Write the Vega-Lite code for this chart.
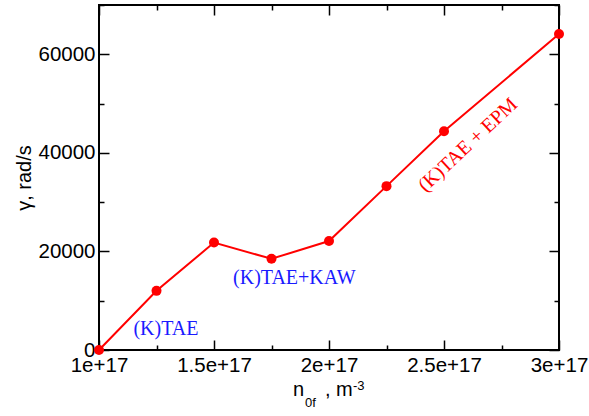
{
  "$schema": "https://vega.github.io/schema/vega-lite/v6.json",
  "width": 460,
  "height": 345,
  "autosize": {"type": "none"},
  "padding": {"left": 99, "top": 5, "right": 30, "bottom": 66},
  "background": "white",
  "config": {
    "view": {"stroke": "black", "strokeWidth": 2},
    "axis": {
      "domain": false,
      "grid": false,
      "tickColor": "black",
      "tickWidth": 1.5,
      "labelFont": "Liberation Sans",
      "labelFontSize": 20.5,
      "labelColor": "black",
      "titleFont": "Liberation Sans",
      "titleFontSize": 20,
      "titleFontWeight": "normal",
      "titleColor": "black"
    }
  },
  "datasets": {
    "main": [
      {"n": 1e17, "g": 0},
      {"n": 1.25e17, "g": 12000},
      {"n": 1.5e17, "g": 21800},
      {"n": 1.75e17, "g": 18500},
      {"n": 2e17, "g": 22100},
      {"n": 2.25e17, "g": 33250},
      {"n": 2.5e17, "g": 44400},
      {"n": 3e17, "g": 64100}
    ],
    "bluenotes": [
      {"label": "(K)TAE", "n": 1.291e17, "g": 4300},
      {"label": "(K)TAE+KAW", "n": 1.849e17, "g": 14550}
    ],
    "rednotes": [
      {"label": "(K)TAE + EPM", "n": 2.604e17, "g": 41600}
    ],
    "xtitle": [
      {"label": "n", "n": 1.8435e17, "g": -9270},
      {"label": ", m", "n": 1.9826e17, "g": -9270}
    ],
    "xtitlesmall": [
      {"label": "0f", "n": 1.8957e17, "g": -11500},
      {"label": "-3", "n": 2.104e17, "g": -8116}
    ]
  },
  "resolve": {"axis": {"x": "independent", "y": "independent"}},
  "layer": [
    {
      "data": {"name": "main"},
      "mark": {"type": "line", "color": "#ff0000", "strokeWidth": 2},
      "encoding": {
        "x": {"field": "n", "type": "quantitative",
              "scale": {"domain": [1e17, 3e17], "nice": false, "zero": false},
              "axis": {"orient": "bottom", "values": [1e17, 1.5e17, 2e17, 2.5e17, 3e17], "format": ".1~e", "tickSize": -10, "labelPadding": 15, "title": null, "labelFlush": false}},
        "y": {"field": "g", "type": "quantitative",
              "scale": {"domain": [0, 70000], "nice": false, "zero": false},
              "axis": {"orient": "left", "values": [0, 20000, 40000, 60000], "format": "d", "tickSize": -10, "labelPadding": 14, "title": "γ, rad/s", "titlePadding": 3}}
      }
    },
    {
      "data": {"name": "main"},
      "mark": {"type": "point", "shape": "circle", "filled": true, "color": "#ff0000", "size": 100, "opacity": 1},
      "encoding": {
        "x": {"field": "n", "type": "quantitative",
              "scale": {"domain": [1e17, 3e17], "nice": false, "zero": false},
              "axis": {"orient": "top", "values": [1e17, 1.5e17, 2e17, 2.5e17, 3e17], "labels": false, "tickSize": -10, "title": null}},
        "y": {"field": "g", "type": "quantitative",
              "scale": {"domain": [0, 70000], "nice": false, "zero": false},
              "axis": {"orient": "right", "values": [0, 20000, 40000, 60000], "labels": false, "tickSize": -10, "title": null}}
      }
    },
    {
      "data": {"name": "main"},
      "mark": {"type": "point", "opacity": 0},
      "encoding": {
        "x": {"field": "n", "type": "quantitative",
              "scale": {"domain": [1e17, 3e17], "nice": false, "zero": false},
              "axis": {"orient": "bottom", "values": [1.25e17, 1.75e17, 2.25e17, 2.75e17], "labels": false, "tickSize": -5, "title": null}},
        "y": {"field": "g", "type": "quantitative",
              "scale": {"domain": [0, 70000], "nice": false, "zero": false},
              "axis": {"orient": "left", "values": [10000, 30000, 50000, 70000], "labels": false, "tickSize": -5, "title": null}}
      }
    },
    {
      "data": {"name": "main"},
      "mark": {"type": "point", "opacity": 0},
      "encoding": {
        "x": {"field": "n", "type": "quantitative",
              "scale": {"domain": [1e17, 3e17], "nice": false, "zero": false},
              "axis": {"orient": "top", "values": [1.25e17, 1.75e17, 2.25e17, 2.75e17], "labels": false, "tickSize": -5, "title": null}},
        "y": {"field": "g", "type": "quantitative",
              "scale": {"domain": [0, 70000], "nice": false, "zero": false},
              "axis": {"orient": "right", "values": [10000, 30000, 50000, 70000], "labels": false, "tickSize": -5, "title": null}}
      }
    },
    {
      "data": {"name": "bluenotes"},
      "mark": {"type": "text", "font": "Liberation Serif", "fontSize": 20, "color": "#1a1aff", "align": "center", "baseline": "middle"},
      "encoding": {
        "x": {"field": "n", "type": "quantitative", "scale": {"domain": [1e17, 3e17], "nice": false, "zero": false}, "axis": null},
        "y": {"field": "g", "type": "quantitative", "scale": {"domain": [0, 70000], "nice": false, "zero": false}, "axis": null},
        "text": {"field": "label"}
      }
    },
    {
      "data": {"name": "rednotes"},
      "mark": {"type": "text", "font": "Liberation Serif", "fontSize": 20, "color": "#ff0000", "align": "center", "baseline": "middle", "angle": 317},
      "encoding": {
        "x": {"field": "n", "type": "quantitative", "scale": {"domain": [1e17, 3e17], "nice": false, "zero": false}, "axis": null},
        "y": {"field": "g", "type": "quantitative", "scale": {"domain": [0, 70000], "nice": false, "zero": false}, "axis": null},
        "text": {"field": "label"}
      }
    },
    {
      "data": {"name": "xtitle"},
      "mark": {"type": "text", "font": "Liberation Sans", "fontSize": 20, "color": "black", "align": "left", "baseline": "alphabetic"},
      "encoding": {
        "x": {"field": "n", "type": "quantitative", "scale": {"domain": [1e17, 3e17], "nice": false, "zero": false}, "axis": null},
        "y": {"field": "g", "type": "quantitative", "scale": {"domain": [0, 70000], "nice": false, "zero": false}, "axis": null},
        "text": {"field": "label"}
      }
    },
    {
      "data": {"name": "xtitlesmall"},
      "mark": {"type": "text", "font": "Liberation Sans", "fontSize": 13, "color": "black", "align": "left", "baseline": "alphabetic"},
      "encoding": {
        "x": {"field": "n", "type": "quantitative", "scale": {"domain": [1e17, 3e17], "nice": false, "zero": false}, "axis": null},
        "y": {"field": "g", "type": "quantitative", "scale": {"domain": [0, 70000], "nice": false, "zero": false}, "axis": null},
        "text": {"field": "label"}
      }
    }
  ]
}
